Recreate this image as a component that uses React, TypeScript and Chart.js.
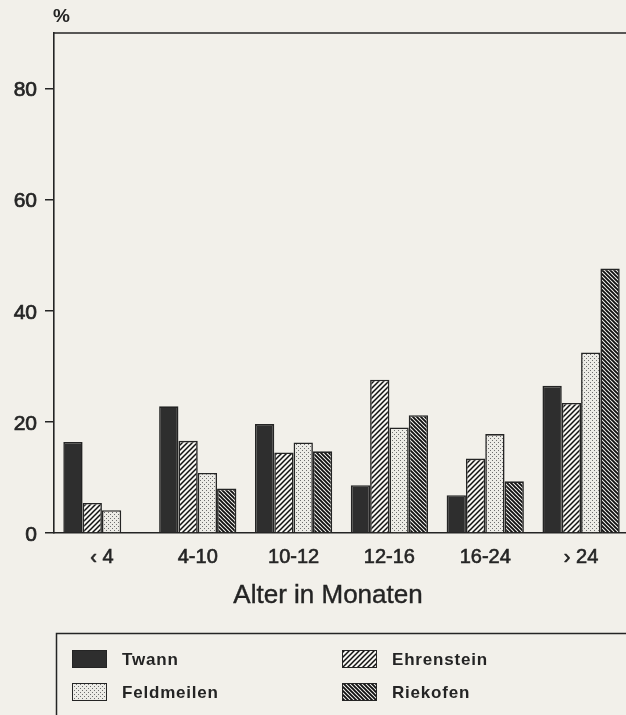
import React, { useEffect, useRef } from 'react';
import { Chart, registerables } from 'chart.js';

Chart.register(...registerables);

// ---- data ----
const categories = ['‹ 4', '4-10', '10-12', '12-16', '16-24', '› 24'];
const seriesNames = ['Twann', 'Ehrenstein', 'Feldmeilen', 'Riekofen'];
const twann = [16.4, 22.8, 19.6, 8.6, 6.8, 26.5];
const ehrenstein = [5.4, 16.6, 14.5, 27.6, 13.4, 23.4];
const feldmeilen = [4.1, 10.8, 16.3, 19.0, 17.8, 32.5];
const riekofen = [0, 8.0, 14.7, 21.2, 9.3, 47.6];
const yTicks = [0, 20, 40, 60, 80];
const yMax = 90;
const xTitle = 'Alter in Monaten';
const yUnit = '%';

const PAPER = '#f2f0ea';
const INK = '#242424';
const FONT = '"Liberation Sans", Arial, Helvetica, sans-serif';

function makePattern(kind: string): CanvasPattern | string {
  const c = document.createElement('canvas');
  const ctx = c.getContext('2d')!;
  if (kind === 'solid') return '#2e2e2e';
  if (kind === 'dots') {
    const n = 4;
    c.width = n; c.height = n;
    ctx.fillStyle = '#ecebe6';
    ctx.fillRect(0, 0, n, n);
    ctx.fillStyle = '#6e6e6e';
    ctx.fillRect(0, 0, 1, 1);
    ctx.fillRect(2, 2, 1, 1);
    return ctx.createPattern(c, 'repeat')!;
  }
  const n = kind === 'fwd' ? 5 : 4;
  c.width = n; c.height = n;
  ctx.fillStyle = '#f7f6f2';
  ctx.fillRect(0, 0, n, n);
  ctx.strokeStyle = '#111';
  ctx.lineWidth = kind === 'fwd' ? 1.5 : 1.9;
  ctx.beginPath();
  if (kind === 'fwd') {
    ctx.moveTo(-1, n + 1); ctx.lineTo(n + 1, -1);
    ctx.moveTo(-1, 1); ctx.lineTo(1, -1);
    ctx.moveTo(n - 1, n + 1); ctx.lineTo(n + 1, n - 1);
  } else {
    ctx.moveTo(-1, -1); ctx.lineTo(n + 1, n + 1);
    ctx.moveTo(-1, n - 1); ctx.lineTo(1, n + 1);
    ctx.moveTo(n - 1, -1); ctx.lineTo(n + 1, 1);
  }
  ctx.stroke();
  return ctx.createPattern(c, 'repeat')!;
}

const decorPlugin = {
  id: 'decor',
  afterDraw(chart: any) {
    const { ctx, chartArea } = chart;
    ctx.save();
    // top frame line
    ctx.strokeStyle = INK;
    ctx.lineWidth = 1.5;
    ctx.beginPath();
    ctx.moveTo(chartArea.left, chartArea.top);
    ctx.lineTo(chart.width, chartArea.top);
    ctx.stroke();
    // unit label
    ctx.fillStyle = INK;
    ctx.font = `bold 19px ${FONT}`;
    ctx.textAlign = 'left';
    ctx.textBaseline = 'alphabetic';
    ctx.fillText(yUnit, chartArea.left - 1, 22);
    // axis title
    ctx.font = `26px ${FONT}`;
    ctx.lineWidth = 0.4;
    ctx.textAlign = 'center';
    ctx.fillText(xTitle, 328, 603);
    ctx.strokeText(xTitle, 328, 603);
    // legend box
    ctx.lineWidth = 1.5;
    ctx.strokeRect(56.5, 633.5, 700, 200);
    const pos = [[72, 650], [342, 650], [72, 683], [342, 683]];
    chart.data.datasets.forEach((ds: any, i: number) => {
      const [x, y] = pos[i];
      ctx.fillStyle = ds.backgroundColor;
      ctx.fillRect(x, y, 34, 17);
      ctx.lineWidth = 1;
      ctx.strokeStyle = INK;
      ctx.strokeRect(x + 0.5, y + 0.5, 34, 17);
      ctx.fillStyle = INK;
      ctx.font = `bold 17px ${FONT}`;
      (ctx as any).letterSpacing = '0.8px';
      ctx.textAlign = 'left';
      ctx.textBaseline = 'middle';
      ctx.fillText(ds.label, x + 50, y + 10);
      (ctx as any).letterSpacing = '0px';
    });
    ctx.restore();
  },
};

export default function App() {
  const ref = useRef<HTMLCanvasElement>(null);
  useEffect(() => {
    if (!ref.current) return;
    const fills = [makePattern('solid'), makePattern('fwd'), makePattern('dots'), makePattern('back')];
    const values = [twann, ehrenstein, feldmeilen, riekofen];
    const chart = new Chart(ref.current, {
      type: 'bar',
      data: {
        labels: categories,
        datasets: seriesNames.map((name, i) => ({
          label: name,
          data: values[i],
          backgroundColor: fills[i] as any,
          borderColor: INK,
          borderWidth: 1.6,
          borderSkipped: 'start',
          categoryPercentage: 0.806,
          barPercentage: 1,
        })),
      },
      options: {
        responsive: false,
        animation: false,
        layout: { padding: { top: 33, left: 0, right: 11, bottom: 0 } },
        plugins: {
          legend: { display: false },
          tooltip: { enabled: false },
          title: { display: false },
        },
        scales: {
          x: {
            grid: { display: false, drawTicks: false },
            border: { display: true, color: INK, width: 1.6 },
            ticks: {
              font: { size: 20, family: FONT },
              color: INK,
              padding: 12,
              textStrokeColor: INK,
              textStrokeWidth: 0.6,
            },
            afterFit: (s: any) => { s.height = 182; },
          },
          y: {
            min: 0,
            max: yMax,
            afterBuildTicks: (s: any) => { s.ticks = yTicks.map((v) => ({ value: v })); },
            grid: { drawOnChartArea: false, drawTicks: true, tickLength: 9, color: INK, lineWidth: 1.5 },
            border: { display: true, color: INK, width: 1.6 },
            ticks: {
              font: { size: 21, family: FONT },
              color: INK,
              padding: 8,
              labelOffset: 2,
              textStrokeColor: INK,
              textStrokeWidth: 0.7,
            },
            afterFit: (s: any) => { s.width = 54; },
          },
        },
      },
      plugins: [decorPlugin],
    });
    return () => chart.destroy();
  }, []);
  return (
    <div style={{ position: 'fixed', left: 0, top: 0, width: 626, height: 715, overflow: 'hidden', background: PAPER }}>
      <canvas ref={ref} width={640} height={715} style={{ width: 640, height: 715, display: 'block' }} />
    </div>
  );
}
